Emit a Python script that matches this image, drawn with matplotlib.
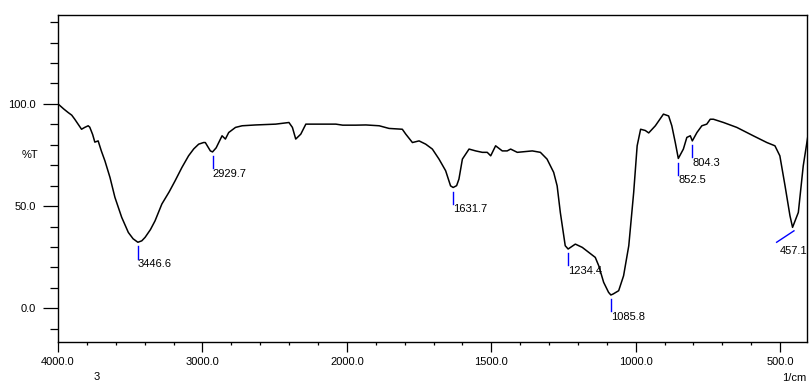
import numpy as np
import matplotlib
matplotlib.use("Agg")
import matplotlib.pyplot as plt
from matplotlib.ticker import FixedLocator, FixedFormatter

# FTIR spectrum (wavenumber in 1/cm, transmittance in %T)
wavenumber = [4000, 3960, 3930, 3905, 3884, 3860, 3837, 3815, 3791, 3780, 3760, 3745,
              3722, 3700, 3675, 3640, 3606, 3559, 3513, 3480, 3447, 3420, 3397, 3360,
              3328, 3281, 3230, 3189, 3142, 3096, 3060, 3026, 2992, 2980, 2945, 2930,
              2905, 2887, 2864, 2841, 2818, 2771, 2725, 2632, 2560, 2493, 2401, 2377,
              2354, 2319, 2284, 2076, 2029, 1969, 1934, 1888, 1854, 1808, 1796, 1773,
              1750, 1727, 1704, 1681, 1658, 1641, 1632, 1620, 1612, 1600, 1577, 1554,
              1531, 1514, 1502, 1485, 1462, 1445, 1433, 1410, 1358, 1330, 1307, 1284,
              1272, 1261, 1244, 1234, 1209, 1185, 1163, 1140, 1128, 1111, 1094, 1086,
              1078, 1059, 1042, 1024, 1007, 995, 983, 967, 955, 932, 904, 886, 875,
              863, 852.5, 835, 823, 811, 804, 788, 771, 754, 742, 731, 696, 650, 593,
              546, 518, 501, 483, 466, 457, 437, 420, 402]
transmittance = [100.0, 97.5, 95.8, 94.5, 92.5, 90.0, 87.6, 88.5, 89.3, 88.6, 85.0, 81.3,
                 81.9, 77.0, 72.1, 64.0, 54.3, 44.5, 37.1, 34.0, 32.3, 33.0, 34.7, 38.5,
                 42.8, 51.0, 57.0, 62.4, 68.9, 74.6, 78.0, 80.3, 81.1, 81.1, 77.0, 76.5,
                 78.5, 81.1, 84.4, 82.8, 86.0, 88.5, 89.3, 89.7, 89.9, 90.1, 90.9, 88.5,
                 82.8, 85.2, 90.1, 90.1, 89.6, 89.6, 89.7, 89.3, 88.0, 87.6, 85.2, 81.1,
                 81.9, 80.3, 77.9, 73.0, 67.3, 59.9, 59.1, 60.0, 63.2, 73.0, 77.9, 77.0,
                 76.3, 76.3, 74.6, 79.5, 77.0, 77.0, 77.9, 76.3, 77.0, 76.3, 73.0, 66.5,
                 59.9, 46.9, 30.6, 29.0, 31.4, 29.8, 27.4, 24.9, 20.8, 12.7, 7.8, 6.5,
                 7.0, 8.6, 15.9, 30.6, 56.7, 79.5, 87.6, 87.0, 85.8, 89.3, 95.0, 94.1,
                 89.3, 81.1, 73.3, 77.9, 83.6, 84.4, 81.9, 86.0, 89.3, 90.1, 92.5, 92.5,
                 90.9, 88.5, 84.4, 81.1, 79.5, 74.6, 59.9, 45.3, 39.6, 46.9, 69.7, 86.0]

peak_wn = [3446.6, 2929.7, 1631.7, 1234.4, 1085.8, 852.5, 804.3]
peak_t = [32.3, 76.5, 59.1, 29.0, 6.5, 73.3, 81.9]
peak_labels = ["3446.6", "2929.7", "1631.7", "1234.4", "1085.8", "852.5", "804.3"]
edge_peak_wn = 457.1
edge_peak_t = 39.6
edge_peak_label = "457.1"

x_major = [4000, 3000, 2000, 1500, 1000, 500]
x_major_labels = ["4000.0", "3000.0", "2000.0", "1500.0", "1000.0", "500.0"]
y_major = [0, 50, 100]
y_major_labels = ["0.0", "50.0", "100.0"]


# wavenumber axis is compressed x2 above 2000 1/cm
def fwd(x):
    x = np.asarray(x, dtype=float)
    return np.where(x >= 2000, 2000 + (x - 2000) / 2.0, x)


def inv(u):
    u = np.asarray(u, dtype=float)
    return np.where(u >= 2000, 2000 + (u - 2000) * 2.0, u)


plt.rcParams["font.family"] = ["Liberation Sans", "DejaVu Sans"]

fig = plt.figure(figsize=(8.09, 3.83), dpi=100)
ax = fig.add_axes([58 / 809, 1 - 342 / 383, (807 - 58) / 809, (342 - 15) / 383])

ax.plot(wavenumber, transmittance, color="black", lw=1.1)

ax.set_xscale("function", functions=(fwd, inv))
ax.set_xlim(4000, 407)
ax.set_ylim(-16.5, 143.5)

x_minor = list(range(3800, 2000, -200)) + [v for v in range(1900, 400, -100) if v not in x_major]
ax.xaxis.set_major_locator(FixedLocator(x_major))
ax.xaxis.set_major_formatter(FixedFormatter(x_major_labels))
ax.xaxis.set_minor_locator(FixedLocator(x_minor))
y_minor = [v for v in range(-10, 150, 10) if v not in y_major]
ax.yaxis.set_major_locator(FixedLocator(y_major))
ax.yaxis.set_major_formatter(FixedFormatter(y_major_labels))
ax.yaxis.set_minor_locator(FixedLocator(y_minor))

ax.tick_params(axis="x", which="major", length=7, width=0.9, pad=4, labelsize=8)
ax.tick_params(axis="x", which="minor", length=2.5, width=0.9)
ax.tick_params(axis="y", which="major", length=11, width=0.9, pad=5, labelsize=8)
ax.tick_params(axis="y", which="minor", length=6, width=0.9)
for s in ax.spines.values():
    s.set_linewidth(1.0)

# peak markers
for wn, t, lbl in zip(peak_wn, peak_t, peak_labels):
    ax.plot([wn, wn], [t - 2, t - 8], color="blue", lw=1.0)
    ax.annotate(lbl, xy=(wn, t - 8.3), xytext=(0, 0), textcoords="offset points",
                ha="left", va="top", fontsize=8)
ax.plot([edge_peak_wn - 5, edge_peak_wn + 55], [edge_peak_t - 1.7, edge_peak_t - 7.3],
        color="blue", lw=1.0)
ax.annotate(edge_peak_label, xy=(edge_peak_wn - 5, edge_peak_t - 11.4), ha="center",
            va="center", fontsize=8)

fig.text(30 / 809, 1 - 155 / 383, "%T", ha="center", va="center", fontsize=8)
fig.text(97 / 809, 1 - 377 / 383, "3", ha="center", va="center", fontsize=8)
fig.text(806 / 809, 1 - 378 / 383, "1/cm", ha="right", va="center", fontsize=8)

fig.savefig("out.png", dpi=100)
